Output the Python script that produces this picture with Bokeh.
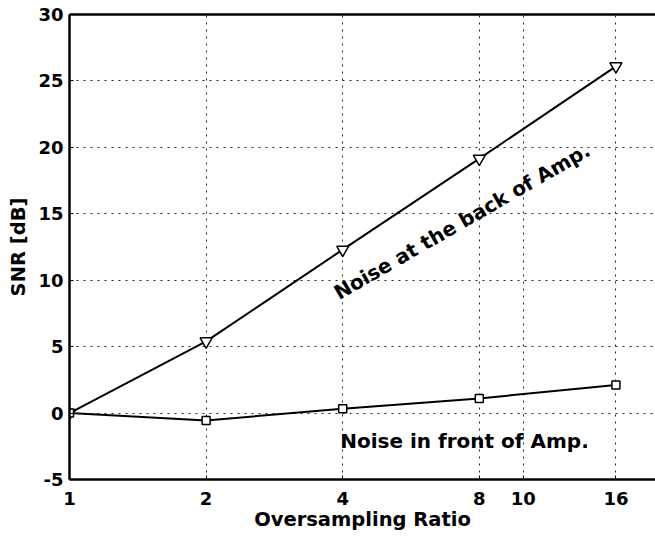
from bokeh.plotting import figure
from bokeh.models import (Range1d, FixedTicker, LogAxis, NumeralTickFormatter)
from bokeh.core.properties import value
from bokeh.embed import file_html
from bokeh.resources import INLINE

# ---- data ----
ratio = [1, 2, 4, 8, 16]
snr_back = [0.0, 5.4, 12.3, 19.15, 26.1]
snr_front = [0.0, -0.55, 0.32, 1.1, 2.12]
x_ticks = [1, 2, 4, 8, 10, 16]
y_ticks = [-5, 0, 5, 10, 15, 20, 25, 30]
label_back = "Noise at the back of Amp."
label_front = "Noise in front of Amp."
label_back_pos = (3.86, 8.94)
label_front_pos = (3.95, -2.08)

FONT = "DejaVu Sans"

p = figure(width=655, height=537, x_axis_type="log",
           x_range=Range1d(1, 19.56), y_range=Range1d(-5, 30),
           output_backend="svg", toolbar_location=None,
           min_border_left=69, min_border_right=0,
           min_border_top=14, min_border_bottom=58,
           background_fill_color="white", border_fill_color="white")
p.outline_line_color = None

# grids
for g in (p.xgrid, p.ygrid):
    g.grid_line_color = "black"
    g.grid_line_dash = "2 5"
    g.grid_line_width = 1
    g.grid_line_alpha = 0.85
p.xgrid.ticker = FixedTicker(ticks=x_ticks)
p.ygrid.ticker = FixedTicker(ticks=y_ticks)

# axes
xa = p.xaxis[0]
ya = p.yaxis[0]
xa.ticker = FixedTicker(ticks=x_ticks)
xa.formatter = NumeralTickFormatter(format="0")
ya.ticker = FixedTicker(ticks=y_ticks)
ya.formatter = NumeralTickFormatter(format="0")
for ax in (xa, ya):
    ax.axis_line_width = 2.5
    ax.axis_line_color = "black"
    ax.major_tick_in = 4
    ax.major_tick_out = 0
    ax.major_tick_line_width = 1
    ax.minor_tick_line_color = None
    ax.major_label_text_font = FONT
    ax.major_label_text_font_style = "bold"
    ax.major_label_text_font_size = "18px"
    ax.major_label_text_color = "black"
    ax.axis_label_text_font = FONT
    ax.axis_label_text_font_style = "bold"
    ax.axis_label_text_font_size = "19.5px"
    ax.axis_label_text_color = "black"
xa.axis_label = "Oversampling Ratio"
ya.axis_label = "SNR [dB]"
xa.major_label_standoff = 12
ya.major_label_standoff = 6
xa.axis_label_standoff = 0
ya.axis_label_standoff = 5

# top border (axis line only)
top = LogAxis(ticker=FixedTicker(ticks=[]), axis_line_width=2.5,
              major_tick_line_color=None, minor_tick_line_color=None)
p.add_layout(top, "above")

# series
p.line(ratio, snr_back, line_color="black", line_width=2)
p.scatter(ratio, snr_back, marker="inverted_triangle", size=12,
          fill_color="white", line_color="black", line_width=1.5)
p.line(ratio, snr_front, line_color="black", line_width=2)
p.scatter(ratio, snr_front, marker="square", size=8,
          fill_color="white", line_color="black", line_width=1.5)

# annotations
p.text(x=[label_back_pos[0]], y=[label_back_pos[1]], text=[label_back],
       angle=30, angle_units="deg", text_font=value(FONT),
       text_font_style="bold", text_font_size="20px", text_color="black",
       text_align="left", text_baseline="alphabetic")
p.text(x=[label_front_pos[0]], y=[label_front_pos[1]], text=[label_front],
       text_font=value(FONT), text_font_style="bold", text_font_size="20px",
       text_color="black", text_align="left", text_baseline="alphabetic")

open("out.html", "w").write(file_html(p, INLINE))
